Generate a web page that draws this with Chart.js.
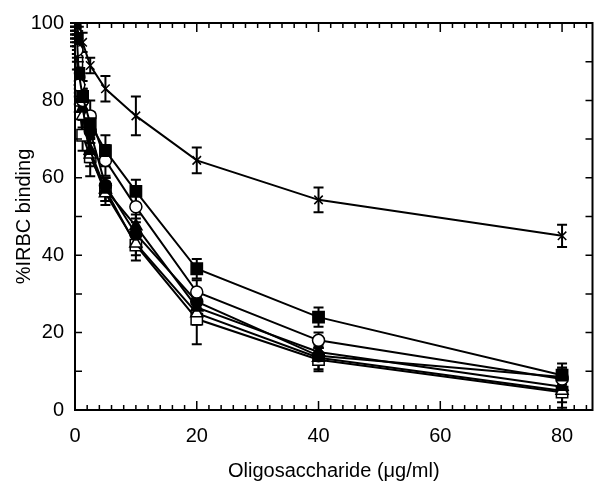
<!DOCTYPE html>
<html>
<head>
  <meta charset="utf-8">
  <title>IRBC binding</title>
  <script src="https://cdn.jsdelivr.net/npm/chart.js@4.4.1/dist/chart.umd.min.js"></script>
  <style>
    body { margin: 0; background: #fff; }
    #wrap { width: 602px; height: 487px; }
  </style>
</head>
<body>
  <div id="wrap"><canvas id="myChart" width="602" height="487"></canvas></div>
  <script>
    // dosis (ug/ml)
    var doses = [0, 0.3125, 0.625, 1.25, 2.5, 5, 10, 20, 40, 80];

    // valores por serie
    var crossVals    = [100, 99, 97, 95, 89, 83, 76, 64.5, 54.3, 45];
    var fSquareVals  = [100, 96, 87, 81, 74, 67, 56.5, 36.5, 24, 9];
    var oCircleVals  = [98, 93, 84, 80, 76, 64.5, 52.5, 30.5, 18, 8];
    var fTriVals     = [97, 95, 85, 78, 67, 57, 47.5, 26.5, 15, 6];
    var fCircleVals  = [99, 94, 86, 80, 72, 58, 45.5, 28, 14, 8.5];
    var oTriVals     = [96, 92, 82, 76, 66, 56, 43, 25, 13.5, 5];
    var oSquareVals  = [95, 90, 80, 71, 65.4, 57, 42.6, 23.5, 13, 4.6];

    // barras de error (+/-)
    var crossErr    = [1, 2, 2, 2.5, 2, 3.3, 5, 3.3, 3.2, 2.9];
    var fSquareErr  = [1, 2, 3, 4, 3, 4, 3, 2.5, 2.5, 3];
    var oCircleErr  = [1, 2, 3, 3, 4, 4, 3, 3, 2, 3];
    var fTriErr     = [1, 2, 3, 3, 3, 3, 3, 3, 2, 2];
    var fCircleErr  = [1, 2, 2, 3, 3, 2, 3, 3, 2, 2];
    var oTriErr     = [1, 2, 3, 3, 3, 3, 3, 3, 3, 3];
    var oSquareErr  = [1, 2, 3, 4, 5, 3, 4, 6.5, 3, 4];

    var xTicks = [0, 20, 40, 60, 80];
    var yTicks = [0, 20, 40, 60, 80, 100];

    function serie(vals, errs, style, fill, radius) {
      return {
        data: doses.map(function(d, i) { return { x: d, y: vals[i] }; }),
        errors: errs,
        borderColor: '#000',
        borderWidth: 2,
        pointStyle: style,
        pointRadius: radius,
        pointBorderWidth: 1.5,
        pointBorderColor: '#000',
        pointBackgroundColor: fill,
        tension: 0
      };
    }

    // barras de error detrás de los marcadores
    var errorBars = {
      id: 'errorBars',
      beforeDatasetsDraw: function(chart) {
        var ctx = chart.ctx, xs = chart.scales.x, ys = chart.scales.y;
        ctx.save();
        ctx.strokeStyle = '#000';
        ctx.lineWidth = 2;
        chart.data.datasets.forEach(function(ds) {
          ds.data.forEach(function(p, i) {
            var e = ds.errors[i];
            var px = xs.getPixelForValue(p.x);
            var y1 = ys.getPixelForValue(Math.min(100, p.y + e));
            var y2 = ys.getPixelForValue(Math.max(0, p.y - e));
            ctx.beginPath();
            ctx.moveTo(px, y1); ctx.lineTo(px, y2);
            ctx.moveTo(px - 5, y1); ctx.lineTo(px + 5, y1);
            ctx.moveTo(px - 5, y2); ctx.lineTo(px + 5, y2);
            ctx.stroke();
          });
        });
        ctx.restore();
      }
    };

    // marco y marcas hacia adentro
    var frame = {
      id: 'frame',
      afterDraw: function(chart) {
        var ctx = chart.ctx, a = chart.chartArea, xs = chart.scales.x, ys = chart.scales.y;
        ctx.save();
        ctx.strokeStyle = '#000';
        ctx.lineWidth = 2;
        ctx.strokeRect(a.left, a.top, a.right - a.left, a.bottom - a.top);
        ctx.lineWidth = 1.5;
        ctx.beginPath();
        for (var v = 2; v < 85; v += 2) {
          var px = xs.getPixelForValue(v);
          var len = (v % 20 === 0) ? 9 : 5;
          ctx.moveTo(px, a.bottom); ctx.lineTo(px, a.bottom - len);
          ctx.moveTo(px, a.top); ctx.lineTo(px, a.top + len);
        }
        for (var w = 10; w < 100; w += 10) {
          var py = ys.getPixelForValue(w);
          ctx.moveTo(a.left, py); ctx.lineTo(a.left + 7, py);
          ctx.moveTo(a.right, py); ctx.lineTo(a.right - 7, py);
        }
        ctx.stroke();
        ctx.restore();
      }
    };

    var ctx = document.getElementById('myChart').getContext('2d');
    var myChart = new Chart(ctx, {
      type: 'line',
      data: {
        datasets: [
          serie(crossVals, crossErr, 'crossRot', '#000', 6),
          serie(fSquareVals, fSquareErr, 'rect', '#000', 8),
          serie(oCircleVals, oCircleErr, 'circle', '#fff', 6),
          serie(fTriVals, fTriErr, 'triangle', '#000', 7),
          serie(fCircleVals, fCircleErr, 'circle', '#000', 6),
          serie(oTriVals, oTriErr, 'triangle', '#fff', 7),
          serie(oSquareVals, oSquareErr, 'rect', '#fff', 8)
        ]
      },
      options: {
        responsive: false,
        animation: false,
        layout: { padding: { top: 18, right: 9, left: 0, bottom: 0 } },
        plugins: { legend: { display: false }, tooltip: { enabled: false } },
        scales: {
          x: {
            type: 'linear',
            min: 0,
            max: 85,
            afterBuildTicks: function(s) { s.ticks = xTicks.map(function(v) { return { value: v }; }); },
            afterFit: function(s) { s.height = 77; },
            grid: { display: false, drawTicks: false },
            border: { display: false },
            ticks: { color: '#000', padding: 14, font: { family: 'Liberation Sans', size: 20 } },
            title: { display: true, text: 'Oligosaccharide (\u03bcg/ml)', color: '#000', padding: { top: 4 },
                     font: { family: 'Liberation Sans', size: 20 } }
          },
          y: {
            min: 0,
            max: 100,
            afterBuildTicks: function(s) { s.ticks = yTicks.map(function(v) { return { value: v }; }); },
            afterFit: function(s) { s.width = 75; },
            grid: { display: false, drawTicks: false },
            border: { display: false },
            ticks: { color: '#000', padding: 11, font: { family: 'Liberation Sans', size: 20 } },
            title: { display: true, text: '%IRBC binding', color: '#000', padding: { top: 12, bottom: 2 },
                     font: { family: 'Liberation Sans', size: 20 } }
          }
        }
      },
      plugins: [errorBars, frame]
    });
  </script>
</body>
</html>
